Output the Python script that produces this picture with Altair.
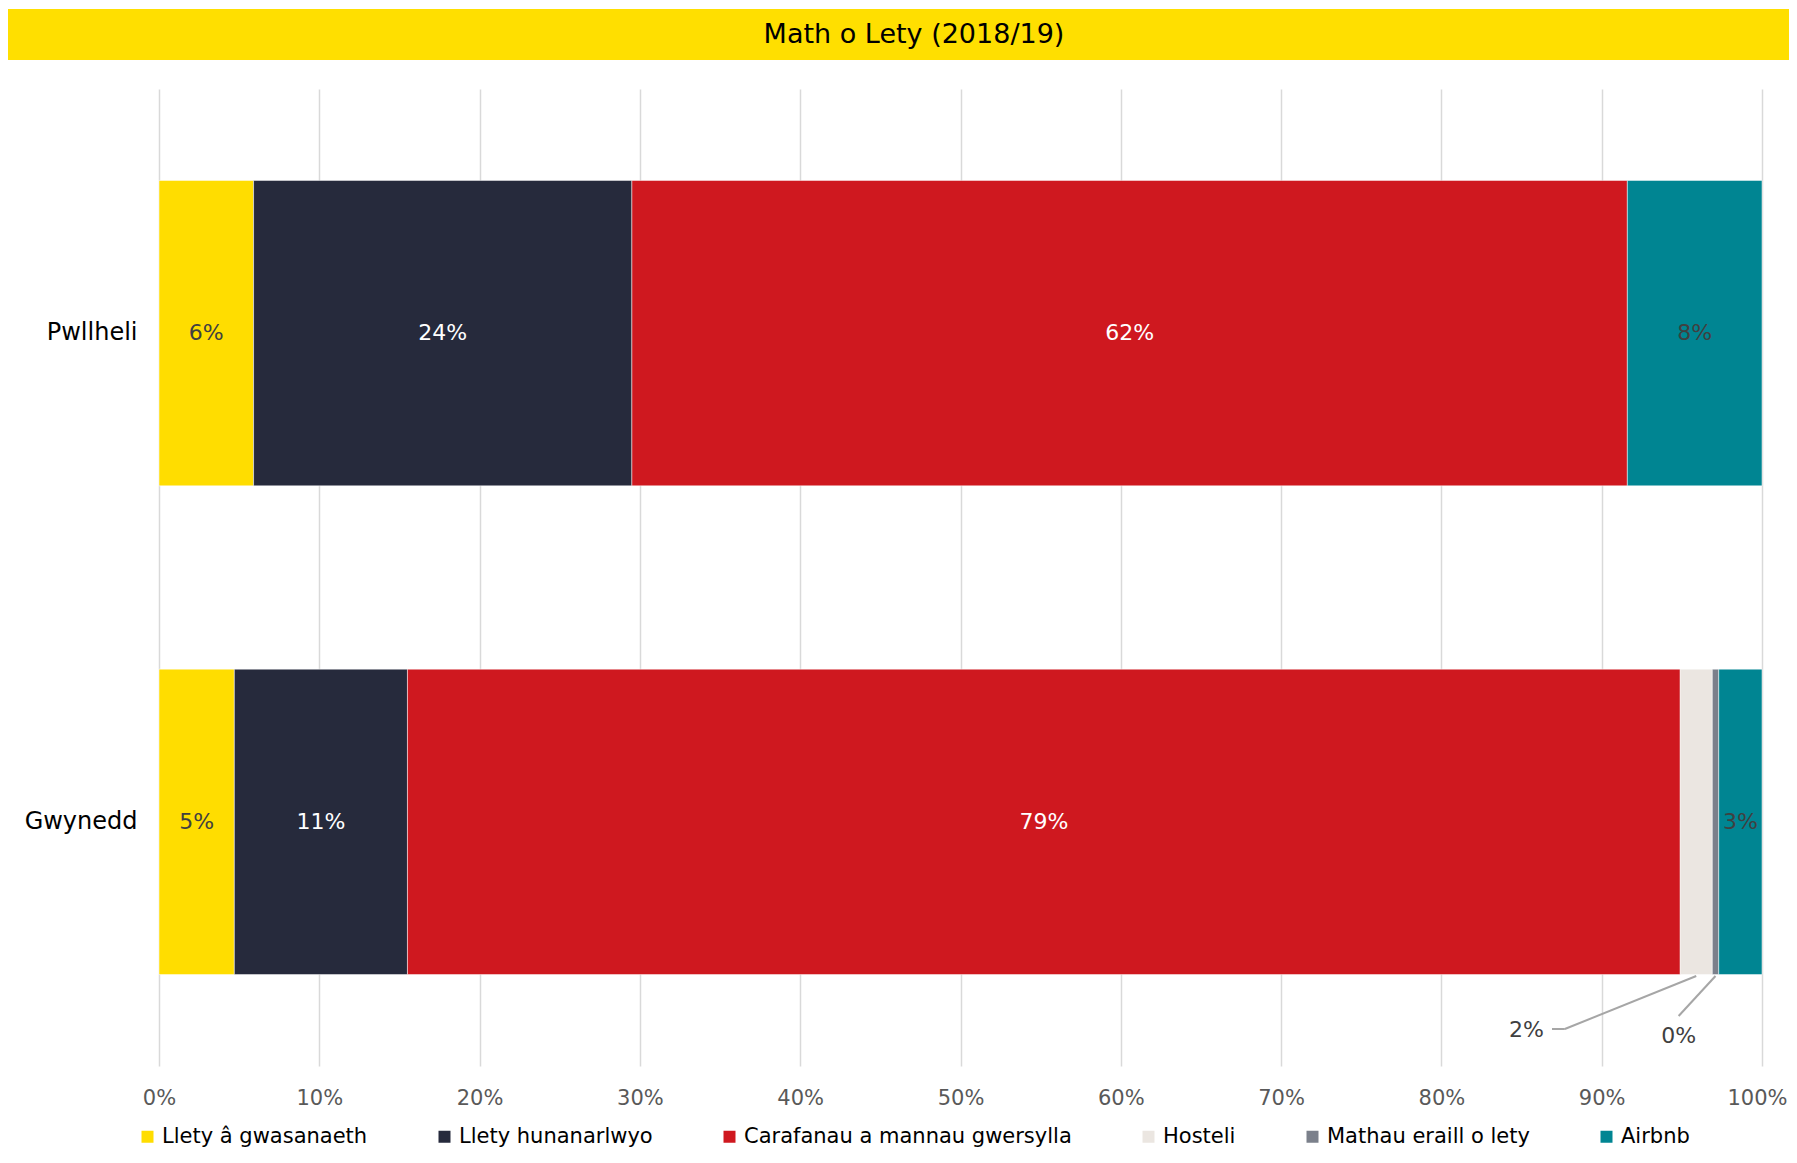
import altair as alt
import pandas as pd

# ---- data ----
regions = ["Pwllheli", "Gwynedd"]
categories = [
    "Llety â gwasanaeth",
    "Llety hunanarlwyo",
    "Carafanau a mannau gwersylla",
    "Hosteli",
    "Mathau eraill o lety",
    "Airbnb",
]
colors = ["#FFDD00", "#262A3C", "#CF181F", "#EBE6E1", "#7B808B", "#008592"]
pwllheli_values = [5.9, 23.6, 62.1, 0.0, 0.0, 8.4]
gwynedd_values = [4.7, 10.8, 79.4, 2.0, 0.4, 2.7]
x_ticks = [0, 10, 20, 30, 40, 50, 60, 70, 80, 90, 100]
title_text = "Math o Lety (2018/19)"

FONT = "DejaVu Sans"

rows = []
for region, vals in zip(regions, [pwllheli_values, gwynedd_values]):
    cum = 0.0
    for cat, v in zip(categories, vals):
        rows.append(
            dict(region=region, category=cat, value=v, start=cum, end=cum + v,
                 mid=cum + v / 2, label=f"{round(v):d}%")
        )
        cum += v
df = pd.DataFrame(rows)
bars_df = df[df.value > 0]
inside_df = df[df.value >= 2.5]

# outside labels (Gwynedd Hosteli and Mathau eraill)
g = df[df.region == "Gwynedd"].set_index("category")
host_mid = float(g.loc["Hosteli", "mid"])
other_mid = float(g.loc["Mathau eraill o lety", "mid"])
host_label = g.loc["Hosteli", "label"]
other_label = g.loc["Mathau eraill o lety", "label"]

W, H = 1603, 977

x_scale = alt.Scale(domain=[0, 100], nice=False)
y_scale = alt.Scale(domain=regions, paddingInner=0.375, paddingOuter=0.187)

base = alt.Chart(bars_df)

bars = base.mark_bar(stroke="white", strokeWidth=0.5).encode(
    x=alt.X(
        "start:Q",
        scale=x_scale,
        axis=alt.Axis(
            values=x_ticks,
            labelExpr="datum.value + '%'",
            title=None,
            grid=True,
            gridColor="#D9D9D9",
            gridWidth=1.5,
            domain=False,
            ticks=False,
            labelFont=FONT,
            labelFontSize=21,
            labelColor="#595959",
            labelPadding=21,
            labelFlush=False,
            labelOverlap=False,
            labelOffset=alt.condition("datum.value == 100", alt.value(-5), alt.value(0)),
        ),
    ),
    x2="end:Q",
    y=alt.Y(
        "region:N",
        scale=y_scale,
        sort=regions,
        axis=alt.Axis(
            title=None,
            domain=False,
            ticks=False,
            labelFont=FONT,
            labelFontSize=24,
            labelColor="#000000",
            labelPadding=22,
        ),
    ),
    color=alt.Color(
        "category:N",
        scale=alt.Scale(domain=categories, range=colors),
        legend=alt.Legend(
            title=None,
            orient="none",
            legendX=-22,
            legendY=1037,
            direction="horizontal",
            symbolType="square",
            symbolSize=144,
            symbolStrokeWidth=0,
            labelFont=FONT,
            labelFontSize=21,
            labelColor="#000000",
            labelOffset=4,
            labelLimit=0,
            columnPadding=66,
        ),
    ),
)

inside_text = alt.Chart(inside_df).mark_text(
    font=FONT, fontSize=22, baseline="middle", align="center"
).encode(
    x=alt.X("mid:Q", scale=x_scale),
    y=alt.Y("region:N", scale=y_scale, sort=regions),
    text="label:N",
    color=alt.condition(
        alt.FieldOneOfPredicate(field="category", oneOf=[categories[1], categories[2]]),
        alt.value("white"),
        alt.value("#404040"),
    ),
)

# leader-line annotation anchor values (in % units)
ann_df = pd.DataFrame(
    dict(
        host_mid=[host_mid], host_elbow=[87.7], host_end=[86.9], host_text=[86.4],
        other_mid=[other_mid], other_text=[94.8],
        host_label=[host_label], other_label=[other_label],
    )
)
ann = alt.Chart(ann_df)
leader_color = "#A6A6A6"
seg1 = ann.mark_rule(color=leader_color, strokeWidth=2).encode(
    x=alt.X("host_mid:Q", scale=x_scale), x2="host_elbow:Q",
    y=alt.value(887), y2=alt.value(940))
seg2 = ann.mark_rule(color=leader_color, strokeWidth=2).encode(
    x=alt.X("host_elbow:Q", scale=x_scale), x2="host_end:Q",
    y=alt.value(940), y2=alt.value(940))
seg3 = ann.mark_rule(color=leader_color, strokeWidth=2).encode(
    x=alt.X("other_mid:Q", scale=x_scale), x2="other_text:Q",
    y=alt.value(887), y2=alt.value(927))
txt_host = ann.mark_text(font=FONT, fontSize=22, align="right", baseline="middle",
                         color="#404040").encode(
    x=alt.X("host_text:Q", scale=x_scale), y=alt.value(941), text="host_label:N")
txt_other = ann.mark_text(font=FONT, fontSize=22, align="center", baseline="middle",
                          color="#404040").encode(
    x=alt.X("other_text:Q", scale=x_scale), y=alt.value(947), text="other_label:N")

# title band
title_df = pd.DataFrame(dict(title=[title_text]))
band = alt.Chart(title_df).mark_rect(color="#FFDF00").encode(
    x=alt.value(-151), x2=alt.value(1630), y=alt.value(-80), y2=alt.value(-29))
title = alt.Chart(title_df).mark_text(
    font=FONT, fontSize=27, fontWeight=500, align="center", baseline="middle",
    color="#000000").encode(x=alt.value(755), y=alt.value(-54), text="title:N")

chart = alt.layer(
    band, title, bars, inside_text, seg1, seg2, seg3, txt_host, txt_other
).properties(
    width=W,
    height=H,
    padding={"left": 151, "top": 81, "right": 27, "bottom": 83},
    autosize=alt.AutoSizeParams(type="none"),
).configure_view(stroke=None)

chart.save("out.html", embed_options={"renderer": "svg", "actions": False})
